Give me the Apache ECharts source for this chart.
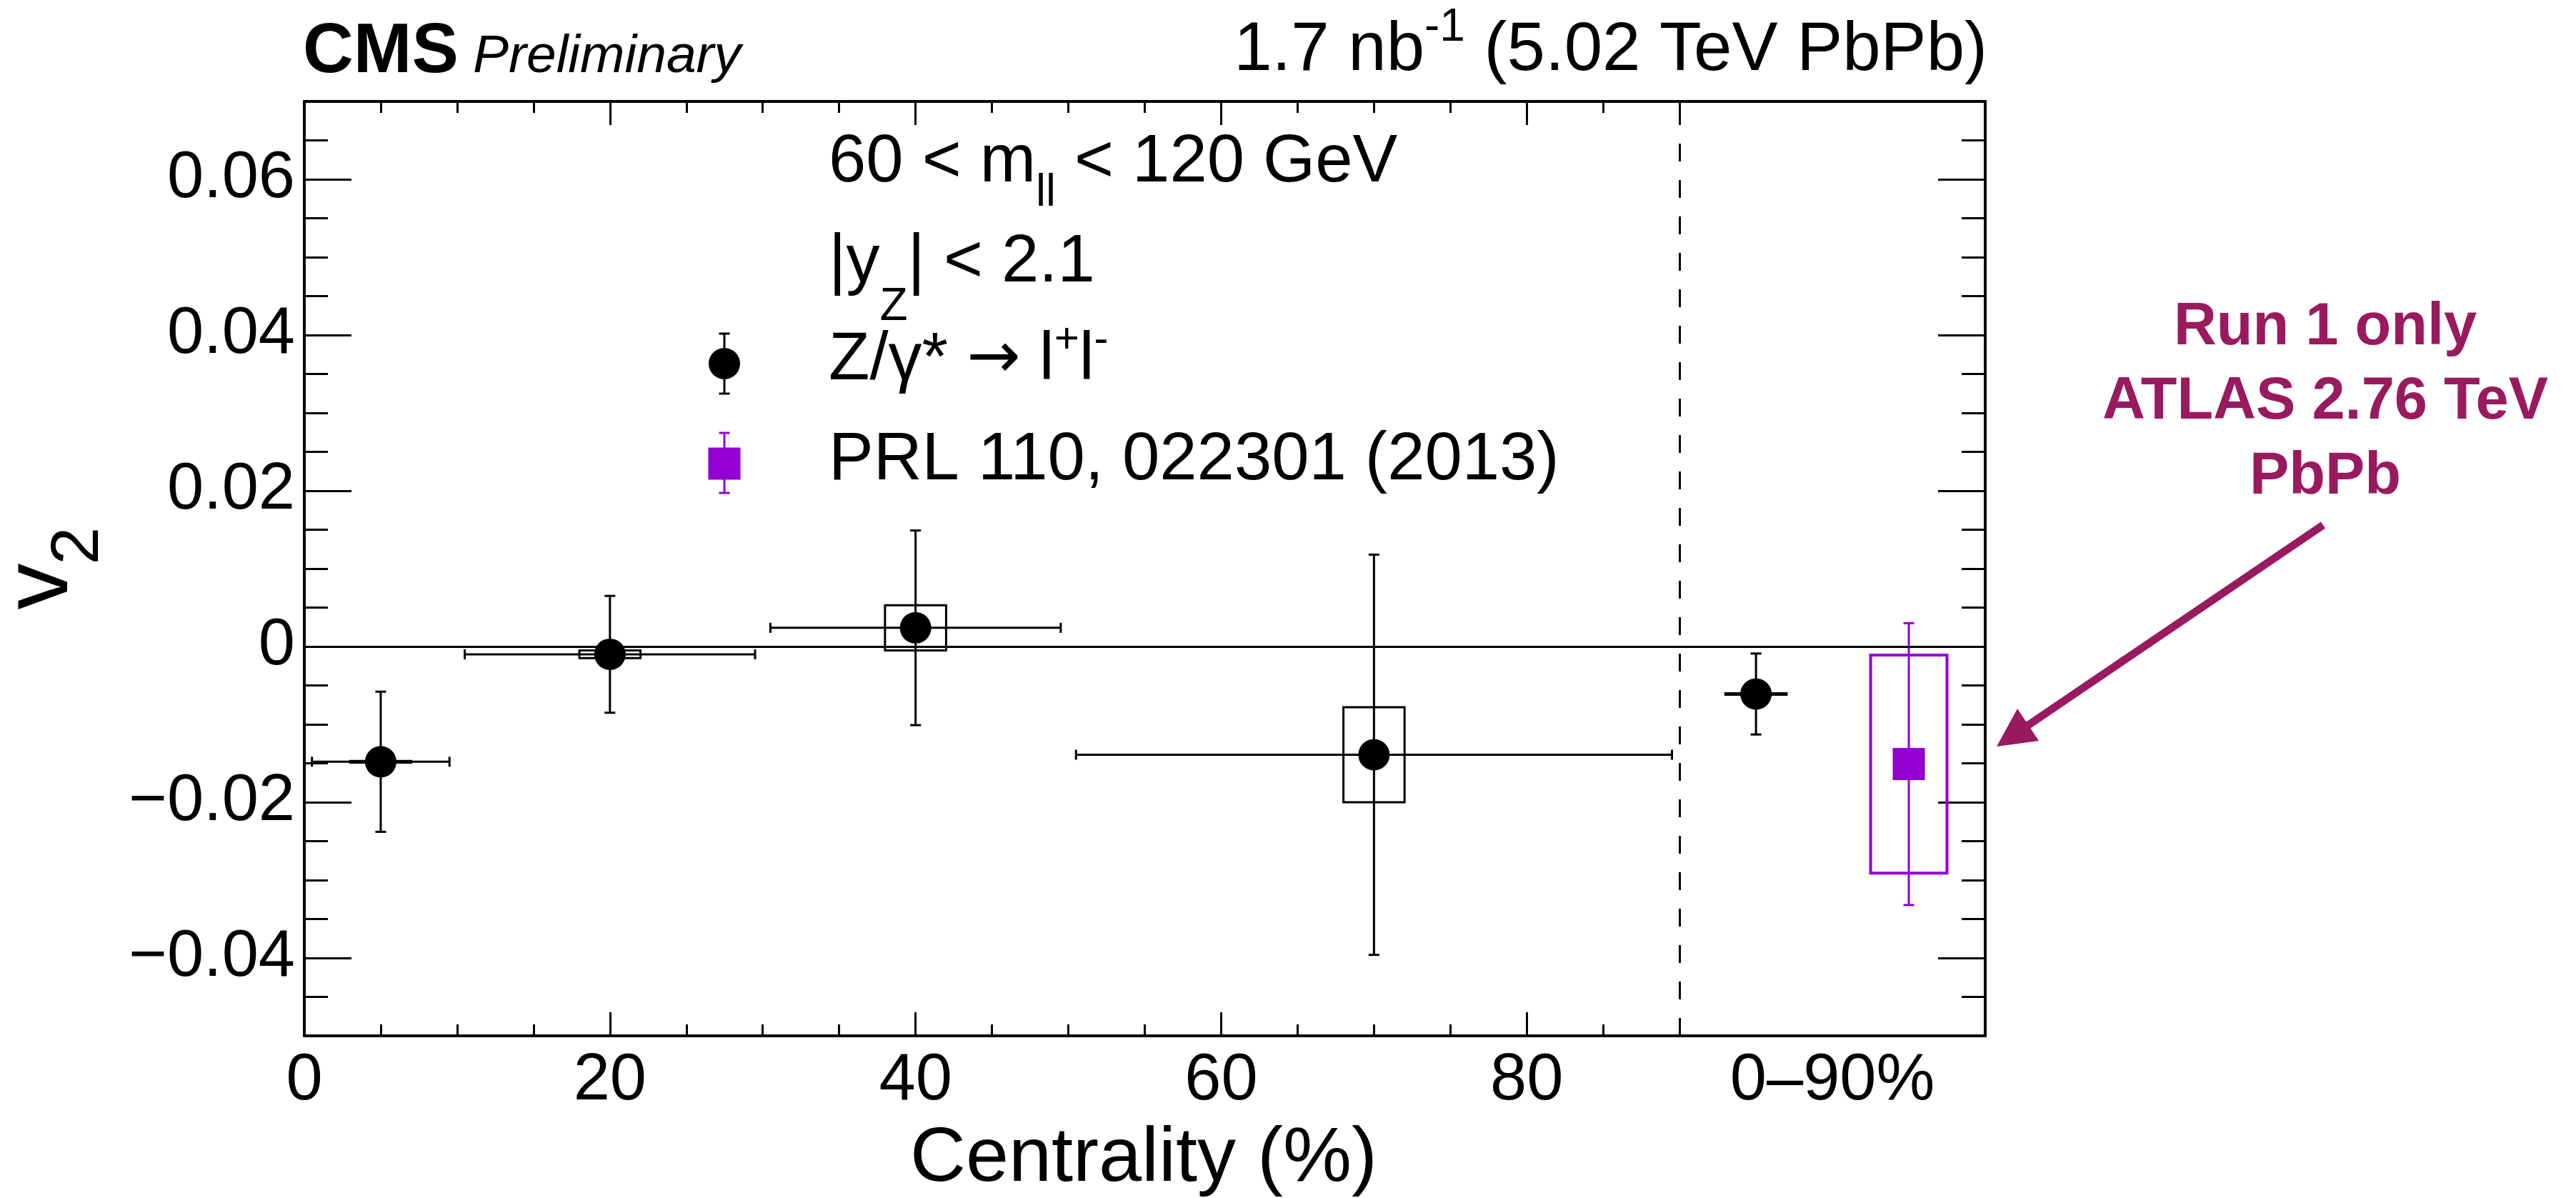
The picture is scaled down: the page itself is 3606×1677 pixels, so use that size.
<!DOCTYPE html>
<html>
<head>
<meta charset="utf-8">
<script src="https://cdn.jsdelivr.net/npm/echarts@6/dist/echarts.min.js"></script>
<style>
  html, body { margin: 0; padding: 0; background: #ffffff; }
  #chart { width: 3606px; height: 1677px; }
</style>
</head>
<body>
<div id="chart"></div>
<script>
// Z/gamma* -> l+l- elliptic flow versus centrality (CMS, 5.02 TeV PbPb)
const cmsCentrality   = [5, 20, 40, 70, 95];
const cmsV2           = [-0.0148, -0.0010, 0.0024, -0.0139, -0.0061];
const cmsStatErr      = [0.0090, 0.0075, 0.0125, 0.0257, 0.0052];
const cmsBinHalfWidth = [4.5, 9.5, 9.5, 19.5, 0];
const cmsSystErr      = [0.0001, 0.0005, 0.0029, 0.0061, 0.0001];

// ATLAS Run 1 reference, 0-90% (PRL 110, 022301)
const atlasCentrality = [105];
const atlasV2         = [-0.0151];
const atlasStatErr    = [0.0181];
const atlasSystErr    = [0.0140];

// axis ticks and labels
const xLabelValues = [0, 20, 40, 60, 80, 100];
const xLabelTexts  = ['0', '20', '40', '60', '80', '0\u201390%'];
const xMajorTicks  = [0, 20, 40, 60, 80];
const xMinorTicks  = [5, 10, 15, 25, 30, 35, 45, 50, 55, 65, 70, 75, 85, 90];
const yLabelValues = [-0.04, -0.02, 0, 0.02, 0.04, 0.06];
const yLabelTexts  = ['\u22120.04', '\u22120.02', '0', '0.02', '0.04', '0.06'];
const yMinorTicks  = [-0.045, -0.035, -0.03, -0.025, -0.015, -0.01, -0.005,
                      0.005, 0.01, 0.015, 0.025, 0.03, 0.035, 0.045, 0.05, 0.055, 0.065];
const mergedBinEdge = 90;

const FONT = 'Liberation Sans';
const BLACK = '#000000';
const VIOLET = '#9400d3';
const NOTE = '#991a5e';
const CMS_BOX_HALF = 2;      // half-width of systematic boxes (centrality units)
const ATLAS_BOX_HALF = 2.5;

function lookup(values, texts, v) {
  for (let i = 0; i < values.length; i++) {
    if (Math.abs(values[i] - v) < 1e-9) return texts[i];
  }
  return '';
}

function vBar(cx, y0, y1, color, lw) {
  return [
    { type: 'line', shape: { x1: cx, y1: y0, x2: cx, y2: y1 }, style: { stroke: color, lineWidth: lw } },
    { type: 'line', shape: { x1: cx - 7.5, y1: y0, x2: cx + 7.5, y2: y0 }, style: { stroke: color, lineWidth: lw } },
    { type: 'line', shape: { x1: cx - 7.5, y1: y1, x2: cx + 7.5, y2: y1 }, style: { stroke: color, lineWidth: lw } }
  ];
}

function renderCms(params, api) {
  const x = api.value(0), y = api.value(1), xe = api.value(2), ye = api.value(3), se = api.value(4);
  const c = api.coord([x, y]);
  const kids = [];
  const b0 = api.coord([x - CMS_BOX_HALF, y + se]);
  const b1 = api.coord([x + CMS_BOX_HALF, y - se]);
  kids.push({ type: 'rect', shape: { x: b0[0], y: b0[1], width: b1[0] - b0[0], height: b1[1] - b0[1] },
              style: { stroke: BLACK, fill: 'transparent', lineWidth: 3 } });
  if (xe > 0) {
    const l = api.coord([x - xe, y]), r = api.coord([x + xe, y]);
    kids.push({ type: 'line', shape: { x1: l[0], y1: c[1], x2: r[0], y2: c[1] }, style: { stroke: BLACK, lineWidth: 3 } });
    kids.push({ type: 'line', shape: { x1: l[0], y1: c[1] - 7, x2: l[0], y2: c[1] + 7 }, style: { stroke: BLACK, lineWidth: 3 } });
    kids.push({ type: 'line', shape: { x1: r[0], y1: c[1] - 7, x2: r[0], y2: c[1] + 7 }, style: { stroke: BLACK, lineWidth: 3 } });
  }
  const t = api.coord([x, y + ye]), b = api.coord([x, y - ye]);
  vBar(c[0], t[1], b[1], BLACK, 3).forEach(e => kids.push(e));
  kids.push({ type: 'circle', shape: { cx: c[0], cy: c[1], r: 22 }, style: { fill: BLACK } });
  return { type: 'group', children: kids };
}

function renderAtlas(params, api) {
  const x = api.value(0), y = api.value(1), ye = api.value(2), se = api.value(3);
  const c = api.coord([x, y]);
  const kids = [];
  const b0 = api.coord([x - ATLAS_BOX_HALF, y + se]);
  const b1 = api.coord([x + ATLAS_BOX_HALF, y - se]);
  kids.push({ type: 'rect', shape: { x: b0[0], y: b0[1], width: b1[0] - b0[0], height: b1[1] - b0[1] },
              style: { stroke: VIOLET, fill: 'transparent', lineWidth: 4 } });
  const t = api.coord([x, y + ye]), b = api.coord([x, y - ye]);
  vBar(c[0], t[1], b[1], VIOLET, 3).forEach(e => kids.push(e));
  kids.push({ type: 'rect', shape: { x: c[0] - 22.5, y: c[1] - 22.5, width: 45, height: 45 }, style: { fill: VIOLET } });
  return { type: 'group', children: kids };
}

const cmsData = cmsCentrality.map((x, i) => [x, cmsV2[i], cmsBinHalfWidth[i], cmsStatErr[i], cmsSystErr[i]]);
const atlasData = atlasCentrality.map((x, i) => [x, atlasV2[i], atlasStatErr[i], atlasSystErr[i]]);

const labelStyle = { color: BLACK, fontFamily: FONT, fontSize: 92 };

function xAxisDef(position, ticks, len, withLabels, withLine) {
  return {
    type: 'value', position: position, min: 0, max: 110,
    splitLine: { show: false },
    axisLine: { show: withLine, onZero: false, lineStyle: { color: BLACK, width: 4 } },
    axisTick: { show: true, inside: true, length: len, customValues: ticks, lineStyle: { color: BLACK, width: 3 } },
    axisLabel: withLabels ? Object.assign({
      show: true, margin: 18, customValues: xLabelValues,
      formatter: v => lookup(xLabelValues, xLabelTexts, v)
    }, labelStyle) : { show: false }
  };
}

function yAxisDef(position, ticks, len, withLabels, withLine) {
  return {
    type: 'value', position: position, min: -0.05, max: 0.07,
    splitLine: { show: false },
    axisLine: { show: withLine, onZero: false, lineStyle: { color: BLACK, width: 4 } },
    axisTick: { show: true, inside: true, length: len, customValues: ticks, lineStyle: { color: BLACK, width: 3 } },
    axisLabel: withLabels ? Object.assign({
      show: true, margin: 13, customValues: yLabelValues,
      formatter: v => lookup(yLabelValues, yLabelTexts, v)
    }, labelStyle) : { show: false }
  };
}

const txt = (x, y, text, size, extra, rotation) => ({
  type: 'text', x: x, y: y, silent: true, rotation: rotation || 0,
  style: Object.assign({ text: text, fill: BLACK, fontFamily: FONT, fontSize: size,
                         align: 'left', verticalAlign: 'middle' }, extra || {})
});

const seg = (x1, y1, x2, y2, color, w) =>
  ({ type: 'line', silent: true, shape: { x1: x1, y1: y1, x2: x2, y2: y2 }, style: { stroke: color, lineWidth: w } });

const graphics = [
  // header
  txt(424, 74, 'CMS', 98, { fontWeight: 'bold' }),
  txt(662, 80, 'Preliminary', 75, { fontStyle: 'italic' }),
  {
    type: 'text', x: 2782, y: 72, silent: true,
    style: {
      text: '{m|1.7 nb}{s|-1}{m| (5.02 TeV PbPb)}', align: 'right', verticalAlign: 'middle', fill: BLACK,
      rich: {
        m: { fontFamily: FONT, fontSize: 96, lineHeight: 130, verticalAlign: 'middle', fill: BLACK },
        s: { fontFamily: FONT, fontSize: 64, lineHeight: 64, verticalAlign: 'top', fill: BLACK }
      }
    }
  },
  // selection cuts
  {
    type: 'text', x: 1160, y: 228, silent: true,
    style: {
      text: '{m|60 < m}{s|ll}{m| < 120 GeV}', align: 'left', verticalAlign: 'middle', fill: BLACK,
      rich: {
        m: { fontFamily: FONT, fontSize: 94, lineHeight: 149, verticalAlign: 'middle', fill: BLACK },
        s: { fontFamily: FONT, fontSize: 63, lineHeight: 63, verticalAlign: 'bottom', fill: BLACK }
      }
    }
  },
  {
    type: 'text', x: 1160, y: 368, silent: true,
    style: {
      text: '{m||y}{s|Z}{m|| < 2.1}', align: 'left', verticalAlign: 'middle', fill: BLACK,
      rich: {
        m: { fontFamily: FONT, fontSize: 94, lineHeight: 188, verticalAlign: 'middle', fill: BLACK },
        s: { fontFamily: FONT, fontSize: 64, lineHeight: 64, verticalAlign: 'bottom', fill: BLACK }
      }
    }
  },
  // legend entries
  {
    type: 'text', x: 1160, y: 505, silent: true,
    style: {
      text: '{m|Z/\u03b3* }{a|\u2192}{m| l}{p|+}{m|l}{n|-}', align: 'left', verticalAlign: 'middle', fill: BLACK,
      rich: {
        m: { fontFamily: FONT, fontSize: 94, lineHeight: 117, verticalAlign: 'middle', fill: BLACK },
        a: { fontFamily: 'DejaVu Sans', fontSize: 90, lineHeight: 117, verticalAlign: 'middle', fill: BLACK },
        p: { fontFamily: FONT, fontSize: 60, lineHeight: 60, verticalAlign: 'top', fill: BLACK },
        n: { fontFamily: FONT, fontSize: 60, lineHeight: 14, verticalAlign: 'top', fill: BLACK }
      }
    }
  },
  txt(1160, 645, 'PRL 110, 022301 (2013)', 94),
  seg(1014, 467, 1014, 551, BLACK, 3),
  seg(1006.5, 467, 1021.5, 467, BLACK, 3),
  seg(1006.5, 551, 1021.5, 551, BLACK, 3),
  { type: 'circle', silent: true, shape: { cx: 1014, cy: 509, r: 22 }, style: { fill: BLACK } },
  seg(1014, 606, 1014, 690, VIOLET, 3),
  seg(1006.5, 606, 1021.5, 606, VIOLET, 3),
  seg(1006.5, 690, 1021.5, 690, VIOLET, 3),
  { type: 'rect', silent: true, shape: { x: 991.5, y: 626.5, width: 45, height: 45 }, style: { fill: VIOLET } },
  // axis titles (the vertical one reads bottom-to-top)
  txt(1601, 1623, 'Centrality (%)', 108, { align: 'center' }),
  txt(58, 821, 'v', 130, { align: 'center' }, Math.PI / 2),
  txt(111, 764, '2', 95, { align: 'center' }, Math.PI / 2),
  // note on the reference point
  txt(3255, 459, 'Run 1 only', 83, { align: 'center', fontWeight: 'bold', fill: NOTE }),
  txt(3255, 563, 'ATLAS 2.76 TeV', 83, { align: 'center', fontWeight: 'bold', fill: NOTE }),
  txt(3255, 668, 'PbPb', 83, { align: 'center', fontWeight: 'bold', fill: NOTE }),
  seg(3252, 735, 2832, 1020, NOTE, 11),
  { type: 'polygon', silent: true, shape: { points: [[2795, 1045], [2824, 992], [2854, 1037]] }, style: { fill: NOTE } }
];

const option = {
  animation: false,
  backgroundColor: '#ffffff',
  grid: { left: 426, right: 827, top: 142, bottom: 227, containLabel: false, outerBoundsMode: 'none' },
  xAxis: [
    xAxisDef('bottom', xMajorTicks, 33, true, true),
    xAxisDef('bottom', xMinorTicks, 16, false, false),
    xAxisDef('top', xMajorTicks, 33, false, true),
    xAxisDef('top', xMinorTicks, 16, false, false)
  ],
  yAxis: [
    yAxisDef('left', yLabelValues, 66, true, true),
    yAxisDef('left', yMinorTicks, 33, false, false),
    yAxisDef('right', yLabelValues, 66, false, true),
    yAxisDef('right', yMinorTicks, 33, false, false)
  ],
  series: [
    {
      type: 'custom', name: 'Z/\u03b3* \u2192 l+l-', xAxisIndex: 0, yAxisIndex: 0,
      data: cmsData, encode: { x: 0, y: 1 }, renderItem: renderCms, z: 3,
      markLine: {
        silent: true, symbol: 'none', label: { show: false }, animation: false,
        data: [
          { yAxis: 0, lineStyle: { color: BLACK, width: 3, type: 'solid' } },
          { xAxis: mergedBinEdge, lineStyle: { color: BLACK, width: 3, type: [25, 26] } }
        ]
      }
    },
    {
      type: 'custom', name: 'PRL 110, 022301 (2013)', xAxisIndex: 0, yAxisIndex: 0,
      data: atlasData, encode: { x: 0, y: 1 }, renderItem: renderAtlas, z: 3
    }
  ],
  graphic: graphics
};

const chart = echarts.init(document.getElementById('chart'), null, { renderer: 'canvas' });
chart.setOption(option);
</script>
</body>
</html>
